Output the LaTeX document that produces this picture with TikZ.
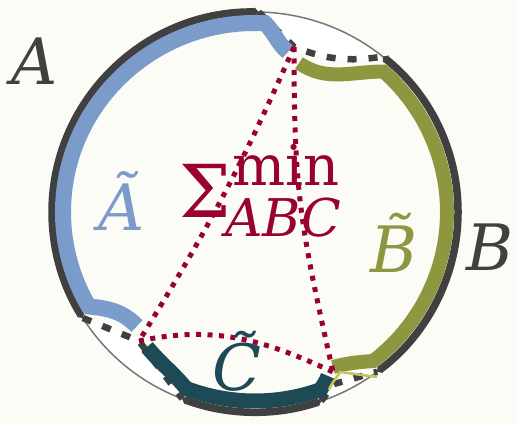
\documentclass[tikz,border=0pt]{standalone}
\usepackage{fontspec}
\setmainfont{DejaVu Serif}
\usetikzlibrary{arrows.meta, calc}
\definecolor{cdark}{HTML}{404040}
\definecolor{cblue}{HTML}{7B9BCB}
\definecolor{colive}{HTML}{8F9640}
\definecolor{cteal}{HTML}{1E4A56}
\definecolor{ccrimson}{HTML}{990033}
\definecolor{clime}{HTML}{C2C45E}
\definecolor{cgrey}{HTML}{777777}
\definecolor{cpaper}{HTML}{FBFCF6}
\tikzset{
  every picture/.style={x=1pt, y=1pt},
  rim/.style={draw=cdark, line width=7.5pt, arrows={Triangle[length=4pt,width=9pt]-Triangle[length=4pt,width=9pt]}},
  gapline/.style={draw=cdark, line width=6.5pt, dash pattern=on 9pt off 12pt},
  part/.style={draw=#1, line width=16pt},
  cut/.style={draw=ccrimson, line width=5pt, dash pattern=on 5pt off 6.5pt},
  lbl/.style={inner sep=0pt, anchor=base, font=\fontsize{64}{66}\selectfont\itshape},
  sumlbl/.style={inner sep=0pt, anchor=base west, text=ccrimson},
}

\begin{document}
\begin{tikzpicture}
  \useasboundingbox[fill=cpaper] (0,0) rectangle (517,424);
  \coordinate (O) at (255,212);
  \coordinate (P) at (294,377);
  \coordinate (Q) at (139,83);
  \coordinate (R) at (333,52);
  \coordinate (g3) at (334,40);
  % ends of the outer arcs
  \coordinate (a1) at ($(O)+(89:203pt and 200pt)$);
  \coordinate (a2) at ($(O)+(212:203pt and 200pt)$);
  \coordinate (b1) at ($(O)+(51:203pt and 200pt)$);
  \coordinate (b2) at ($(O)+(-53:203pt and 200pt)$);
  \coordinate (c1) at ($(O)+(249:203pt and 200pt)$);
  \coordinate (c2) at ($(O)+(-71:203pt and 200pt)$);
  % gaps
  \fill[white] (a1) -- (P) to[bend right=15] (b1) arc[start angle=51, end angle=89, x radius=203pt, y radius=200pt] -- cycle;
  \fill[white] (a2) -- (Q) -- (c1) arc[start angle=249, end angle=212, x radius=203pt, y radius=200pt] -- cycle;
  \fill[white] (c2) -- (g3) -- (b2) arc[start angle=-53, end angle=-71, x radius=203pt, y radius=200pt] -- cycle;
  \draw[cgrey, line width=1.5pt] (O) ellipse[x radius=203pt, y radius=200pt];
  \draw[gapline] (a1) -- (P) to[bend right=15] (b1);
  \draw[gapline] (a2) -- (Q) -- (c1);
  \draw[gapline] (c2) -- (g3) -- (b2);
  \foreach \s/\e/\p in {89/212/a1, 51/-53/b1, 249/289/c1}
    \draw[rim] (\p) arc[start angle=\s, end angle=\e, x radius=203pt, y radius=200pt];
  % inner parts
  \coordinate (A1) at (288,372);
  \coordinate (A2) at ($(O)+(87:192pt and 189pt)$);
  \coordinate (A3) at (137,98);
  \coordinate (B1) at (299,361);
  \coordinate (B2) at ($(O)+(48:192pt and 189pt)$);
  \coordinate (B3) at (333,57);
  \coordinate (C1) at (147,77);
  \coordinate (C2) at ($(O)+(249:192pt and 189pt)$);
  \coordinate (C3) at (328,48);
  \draw[part=cblue] (A1) to[out=140, in=-45] (A2)
    arc[start angle=87, end angle=210, x radius=192pt, y radius=189pt] to[out=-5, in=135] (A3);
  \draw[part=colive, line width=14pt] (B1) to[out=-35, in=180] (B2)
    arc[start angle=48, end angle=-52, x radius=192pt, y radius=189pt] to[out=185, in=15] (B3);
  \draw[part=cteal, line width=15pt] (C1) to[out=-50, in=130] (C2)
    arc[start angle=249, end angle=290, x radius=192pt, y radius=189pt] to[out=60, in=-110] (C3);
  \coordinate (L1) at (329,34);
  \coordinate (L2) at (340,52);
  \coordinate (L3) at (377,47);
  \draw[clime, line width=2.5pt] (L1) to[out=70, in=-120] (L2) -- (L3);
  % cuts
  \draw[cut] (P) to[bend left=4] (Q);
  \draw[cut] (P) .. controls (294,230) and (300,200) .. (R);
  \draw[cut] (Q) to[out=12, in=155] (R);
  % labels
  \node[lbl, text=cdark] (la) at (35,339) {A};
  \node[lbl, text=cdark] (lb) at (490,154) {B};
  \node[lbl, text=cblue] (lta) at (122,194) {Ã};
  \node[lbl, text=colive] (ltb) at (394,152) {B̃};
  \node[lbl, text=cteal] (ltc) at (237,34) {C̃};
  \node[sumlbl, font=\fontsize{73}{75}\selectfont] (sig) at (179,207) {Σ};
  \node[sumlbl, font=\fontsize{56}{58}\selectfont] (mn) at (232,239) {min};
  \node[sumlbl, font=\fontsize{52}{54}\selectfont\itshape] (abc) at (225,188) {ABC};
\end{tikzpicture}
\end{document}
